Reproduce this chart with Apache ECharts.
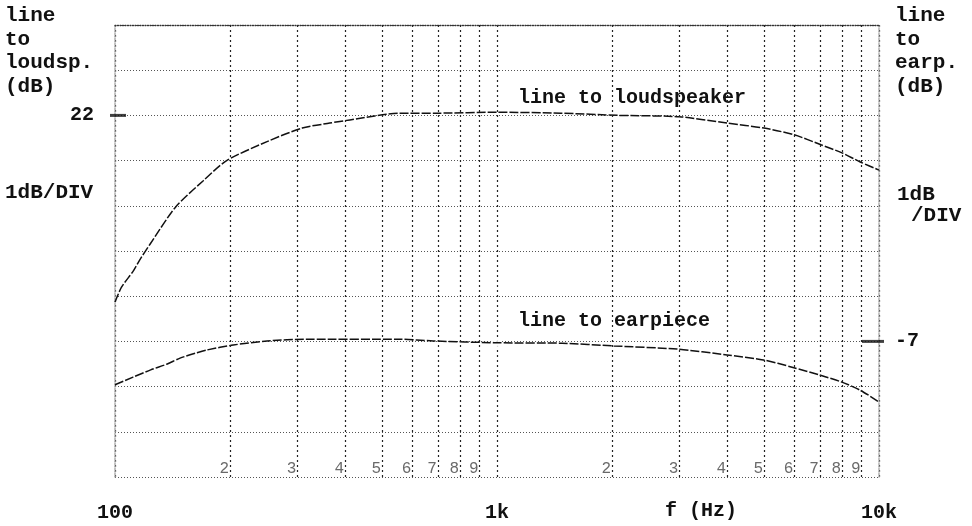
<!DOCTYPE html>
<html><head><meta charset="utf-8">
<script src="https://cdn.jsdelivr.net/npm/echarts@6/dist/echarts.min.js"></script>
<style>html,body{margin:0;padding:0;background:#fff}#c{width:972px;height:526px}</style>
</head><body><div id="c"></div>
<script>
// Frequency response (Hz) -> level (dB)
const freqLoud = [100, 104, 111.5, 116, 123.5, 144, 170, 196, 250, 309, 365, 412, 557, 700, 1000, 1470, 2090, 3000, 4000, 5000, 6000, 7050, 8000, 8930, 10000];
const loudspeaker = [17.87, 18.2, 18.55, 18.8, 19.15, 19.97, 20.55, 21.0, 21.42, 21.72, 21.83, 21.9, 22.05, 22.05, 22.07, 22.05, 22.0, 21.97, 21.83, 21.72, 21.57, 21.35, 21.17, 20.97, 20.79];
const freqEar = [100, 111.5, 124, 137, 148, 164, 174, 204, 250, 318, 557, 680, 1000, 1480, 2020, 2960, 4000, 4980, 5920, 6970, 7990, 8930, 10000];
const earpiece = [-7.96, -7.79, -7.63, -7.5, -7.37, -7.25, -7.19, -7.08, -6.99, -6.95, -6.95, -6.99, -7.03, -7.04, -7.1, -7.17, -7.3, -7.41, -7.57, -7.74, -7.9, -8.08, -8.34];
const minorFreqs = [200, 300, 400, 500, 600, 700, 800, 900, 2000, 3000, 4000, 5000, 6000, 7000, 8000, 9000];
const xTickLabels = {100: '100', 1000: '1k', 10000: '10k'};
const refLoud = [[100, 22]];
const refEar = [[10000, -7]];
const refPointEar = [[1000, -7.03]];

const FONT = '"Liberation Mono", "Courier New", monospace';
const INK = '#111';
const pairs = (xs, ys) => xs.map((x, i) => [x, ys[i]]);
const TXT = (text, left, top, size, extra) => ({
  type: 'text', left, top,
  style: Object.assign({text, font: 'bold ' + size + 'px ' + FONT, fill: INK}, extra || {})
});

const chart = echarts.init(document.getElementById('c'), null, {renderer: 'canvas'});
chart.setOption({
  animation: false,
  backgroundColor: '#fff',
  grid: {left: 115, right: 93, top: 25, bottom: 49},
  xAxis: {
    type: 'log', logBase: 10, min: 100, max: 10000,
    axisLine: {show: true, lineStyle: {type: [1, 1.5], color: '#333', width: 1.3}},
    axisTick: {show: false},
    axisLabel: {
      formatter: v => xTickLabels[Math.round(v)] || '',
      margin: 26, fontFamily: FONT, fontWeight: 'bold', fontSize: 20, color: INK
    },
    splitLine: {show: true, lineStyle: {type: [2, 3], color: '#222', width: 1.2}}
  },
  yAxis: [{
    type: 'value', min: 14, max: 24, interval: 1, position: 'left',
    axisLine: {show: true, lineStyle: {type: [1, 1.5], color: '#aaa', width: 1.5}},
    axisTick: {show: false},
    axisLabel: {formatter: v => (v === 22 ? '22' : ''), margin: 21, fontFamily: FONT, fontWeight: 'bold', fontSize: 20, color: INK},
    splitLine: {show: true, lineStyle: {type: [1, 2], color: '#555', width: 1}}
  }, {
    type: 'value', min: -10, max: 0, interval: 1, position: 'right',
    axisLine: {show: true, lineStyle: {type: [1, 1.5], color: '#aaa', width: 1.5}},
    axisTick: {show: false},
    axisLabel: {formatter: v => (v === -7 ? '-7' : ''), margin: 16, fontFamily: FONT, fontWeight: 'bold', fontSize: 20, color: INK},
    splitLine: {show: false}
  }],
  series: [{
    name: 'line to loudspeaker', type: 'line', yAxisIndex: 0,
    data: pairs(freqLoud, loudspeaker), smooth: 0.25, showSymbol: false,
    lineStyle: {color: INK, width: 1.5, type: [9, 2]},
    markLine: {
      silent: true, symbol: 'none', label: {show: false},
      lineStyle: {type: [2, 3], color: '#222', width: 1.2},
      data: minorFreqs.map(f => ({xAxis: f}))
    }
  }, {
    name: 'line to earpiece', type: 'line', yAxisIndex: 1,
    data: pairs(freqEar, earpiece), smooth: 0.25, showSymbol: false,
    lineStyle: {color: INK, width: 1.5, type: [9, 2]}
  }, {
    type: 'scatter', yAxisIndex: 0, clip: false, silent: true,
    data: minorFreqs.map(f => [f, 14]), symbolSize: 0,
    label: {
      show: true, position: 'left', distance: 1, offset: [0, -8],
      formatter: p => String(Math.round(p.value[0] / Math.pow(10, Math.floor(Math.log10(p.value[0]))))),
      fontFamily: FONT, fontSize: 16, color: '#444'
    }
  }, {
    type: 'scatter', yAxisIndex: 0, clip: false, silent: true,
    data: refLoud, symbol: 'rect', symbolSize: [16, 3], symbolOffset: [3, 0],
    itemStyle: {color: INK}
  }, {
    type: 'scatter', yAxisIndex: 1, clip: false, silent: true,
    data: refEar, symbol: 'rect', symbolSize: [22, 3], symbolOffset: [-6, 0],
    itemStyle: {color: INK}
  }, {
    type: 'scatter', yAxisIndex: 1, clip: false, silent: true,
    data: refPointEar, symbol: 'emptyCircle', symbolSize: 7,
    itemStyle: {color: '#fff', borderColor: INK, borderWidth: 1.3}
  }],
  graphic: [
    TXT('line\nto\nloudsp.\n(dB)', 5, 4, 21, {lineHeight: 23.5}),
    TXT('1dB/DIV', 5, 182, 21),
    TXT('line\nto\nearp.\n(dB)', 895, 4, 21, {lineHeight: 23.5}),
    TXT('1dB', 897, 184, 21),
    TXT('/DIV', 911, 205, 21),
    TXT('line to loudspeaker', 518, 88, 20),
    TXT('line to earpiece', 518, 311, 20),
    TXT('f (Hz)', 665, 501, 20)
  ]
});
</script></body></html>
